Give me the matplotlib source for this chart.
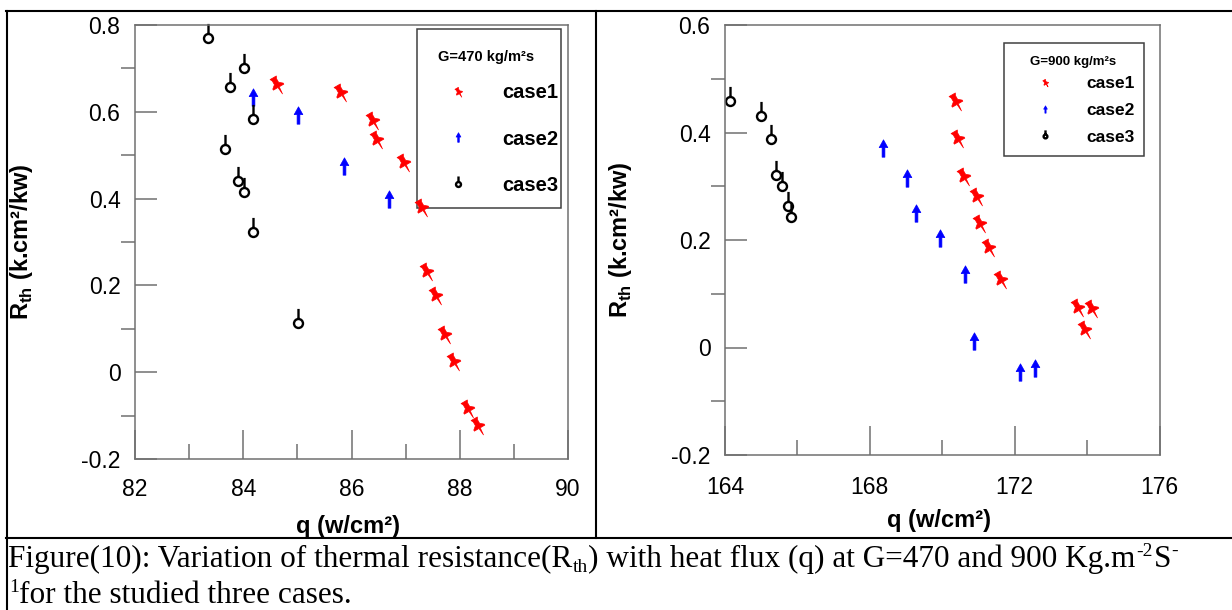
import numpy as np
import matplotlib
matplotlib.use('Agg')
import matplotlib.pyplot as plt
from matplotlib.path import Path
from matplotlib.patches import Rectangle
from matplotlib.lines import Line2D
from matplotlib.ticker import MultipleLocator, FuncFormatter
from matplotlib.font_manager import FontProperties

plt.rcParams['font.family'] = ['Liberation Sans', 'DejaVu Sans']
plt.rcParams['axes.unicode_minus'] = False
plt.rcParams['mathtext.fontset'] = 'custom'
plt.rcParams['mathtext.rm'] = 'Liberation Sans'
plt.rcParams['mathtext.bf'] = 'Liberation Sans:bold'

# ---- data: G = 470 kg/m2s ----
q470_case1 = [84.60, 85.78, 86.37, 86.46, 86.95, 87.29, 87.38, 87.54, 87.71, 87.88, 88.13, 88.31]
r470_case1 = [0.666, 0.649, 0.583, 0.539, 0.487, 0.384, 0.235, 0.180, 0.091, 0.028, -0.081, -0.119]
q470_case2 = [84.18, 85.02, 85.86, 86.70]
r470_case2 = [0.635, 0.593, 0.474, 0.398]
q470_case3 = [83.34, 84.01, 83.76, 84.18, 83.67, 83.91, 84.02, 84.18, 85.02]
r470_case3 = [0.771, 0.702, 0.658, 0.583, 0.514, 0.441, 0.416, 0.322, 0.114]

# ---- data: G = 900 kg/m2s ----
q900_case1 = [170.34, 170.40, 170.57, 170.92, 171.01, 171.25, 171.59, 173.71, 174.12, 173.92]
r900_case1 = [0.460, 0.391, 0.321, 0.284, 0.234, 0.189, 0.129, 0.077, 0.076, 0.036]
q900_case2 = [168.36, 169.02, 169.28, 169.95, 170.62, 170.88, 172.14, 172.57]
r900_case2 = [0.371, 0.315, 0.250, 0.203, 0.137, 0.013, -0.045, -0.039]
q900_case3 = [164.15, 164.99, 165.26, 165.42, 165.58, 165.75, 165.83]
r900_case3 = [0.459, 0.431, 0.387, 0.321, 0.301, 0.264, 0.242]

case_labels = ['case1', 'case2', 'case3']

W, H = 1232, 610
fig = plt.figure(figsize=(W / 100, H / 100), dpi=100)


def fig_box(x0, y0, x1, y1):
    return [x0 / W, 1 - y1 / H, (x1 - x0) / W, (y1 - y0) / H]


def closed(pts):
    pts = np.asarray(pts, float)
    verts = np.vstack([pts, pts[:1]])
    codes = [Path.MOVETO] + [Path.LINETO] * (len(pts) - 1) + [Path.CLOSEPOLY]
    return Path(verts, codes)


# marker shapes: push pin, arrow, ring with stick
pin = np.array([(-0.3, 0.55), (0.3, 0.55), (0.2, 0.35), (0.2, 0.0), (0.5, -0.25), (0.5, -0.35),
                (0.06, -0.35), (0, -1.0), (-0.06, -0.35), (-0.5, -0.35), (-0.5, -0.25),
                (-0.2, 0.0), (-0.2, 0.35)])
th = np.radians(30)
rot = np.array([[np.cos(th), -np.sin(th)], [np.sin(th), np.cos(th)]])
pin_marker = closed(pin @ rot.T)
arrow_marker = closed([(-0.16, -1), (0.16, -1), (0.16, 0.1), (0.5, 0.1), (0, 1),
                       (-0.5, 0.1), (-0.16, 0.1)])
ring_marker = Path.make_compound_path(Path.circle((0, 0), 0.4),
                                      Path([(0, 0.4), (0, 1.3)], [Path.MOVETO, Path.LINETO]))

ax_pix = {}


def frac(ax, px, py):
    x0, y0, x1, y1 = ax_pix[ax]
    return (px - x0) / (x1 - x0), (y1 - py) / (y1 - y0)


def setup(ax, xlim, ylim, xmaj, xmin, xpad):
    ax.set_xlim(*xlim)
    ax.set_ylim(*ylim)
    ax.xaxis.set_major_locator(MultipleLocator(xmaj))
    ax.xaxis.set_minor_locator(MultipleLocator(xmin))
    ax.yaxis.set_major_locator(MultipleLocator(0.2))
    ax.yaxis.set_minor_locator(MultipleLocator(0.1))
    ax.yaxis.set_major_formatter(FuncFormatter(lambda v, p: f'{round(v, 2) + 0:g}'))
    ax.tick_params(axis='x', which='major', direction='in', length=21, width=1.1,
                   color='#707070', labelsize=16.5, pad=xpad)
    ax.tick_params(axis='x', which='minor', direction='in', length=10.5, width=1.1, color='#707070')
    ax.tick_params(axis='y', which='major', direction='in', length=16, width=1.1,
                   color='#707070', labelsize=16.5, pad=10.5)
    ax.tick_params(axis='y', which='minor', direction='out', length=10, width=1.1, color='#707070')
    for s in ax.spines.values():
        s.set_color('#707070')
        s.set_linewidth(1.1)


def draw(ax, q1, r1, q2, r2, q3, r3):
    ax.plot(q1, r1, ls='none', marker=pin_marker, ms=15, mfc='red', mec='red', mew=0.5,
            clip_on=False, label=case_labels[0])
    ax.plot(q2, r2, ls='none', marker=arrow_marker, ms=12.5, mfc='blue', mec='blue', mew=0.5,
            clip_on=False, label=case_labels[1])
    ax.plot(q3, r3, ls='none', marker=ring_marker, ms=21, mfc='none', mec='black', mew=1.7,
            clip_on=False, label=case_labels[2])


def legend(ax, title, title_xy, title_prop, box, lab_prop, hx, cy, tpad, pitch, mscale):
    fs = lab_prop.get_size_in_points() * 100 / 72
    lspace = (pitch - 0.92 * fs) / fs
    fx, fy = frac(ax, hx, cy)
    ax.legend(loc='center left', bbox_to_anchor=(fx, fy), borderaxespad=0, borderpad=0,
              frameon=False, handlelength=1.0, handletextpad=tpad, labelspacing=lspace,
              markerscale=mscale, prop=lab_prop)
    tx, ty = frac(ax, *title_xy)
    ax.text(tx, ty, title, transform=ax.transAxes, ha='center', va='center', fontproperties=title_prop)
    bx0, by1 = frac(ax, box[0], box[1])
    bx1, by0 = frac(ax, box[2], box[3])
    ax.add_patch(Rectangle((bx0, by0), bx1 - bx0, by1 - by0, transform=ax.transAxes,
                           fill=False, ec='#404040', lw=1.1, clip_on=False))


left_lab = FontProperties(family='Liberation Sans', weight='bold', size=14.5)
left_title = FontProperties(family='Liberation Sans', weight='bold', size=10.5)
right_lab = FontProperties(family='Liberation Sans', weight='bold', size=12.5)
right_title = FontProperties(family='Liberation Sans', weight='bold', size=9.5)

# left panel
ax1 = fig.add_axes(fig_box(135, 25, 568, 459))
ax_pix[ax1] = (135, 25, 568, 459)
setup(ax1, (82, 90), (-0.2, 0.8), 2, 1, 13.5)
draw(ax1, q470_case1, r470_case1, q470_case2, r470_case2, q470_case3, r470_case3)
legend(ax1, 'G=470 kg/m²s', (486, 57), left_title, (417, 29, 561, 208),
       left_lab, 448, 139, 1.7, 46, 0.55)

# right panel
ax2 = fig.add_axes(fig_box(725, 25, 1159.5, 455))
ax_pix[ax2] = (725, 25, 1159.5, 455)
setup(ax2, (164, 176), (-0.2, 0.6), 4, 2, 15)
draw(ax2, q900_case1, r900_case1, q900_case2, r900_case2, q900_case3, r900_case3)
legend(ax2, 'G=900 kg/m²s', (1073, 62), right_title, (1004, 42.7, 1144, 156),
       right_lab, 1036, 110.5, 1.9, 27.5, 0.42)

ylab = r'R$_{\mathbf{th}}$ (k.cm²/kw)'
xlab = 'q (w/cm²)'
for ax, ylx, xlp in [(ax1, 22, (348, 526)), (ax2, 620, (939, 521))]:
    ax.set_ylabel(ylab, fontsize=17, fontweight='bold', va='center')
    ax.yaxis.set_label_coords(frac(ax, ylx, 0)[0], 0.5)
    ax.set_xlabel(xlab, fontsize=17, fontweight='bold', va='center')
    ax.xaxis.set_label_coords(*frac(ax, *xlp))

# table-like frame lines around the panels
frame_lines = [((6, 10.7), (1232, 10.7)), ((6.7, 10.7), (6.7, 610)),
               ((596, 10.7), (596, 537.7)), ((6, 537.7), (1232, 537.7))]
for (x0, y0), (x1, y1) in frame_lines:
    fig.add_artist(Line2D([x0 / W, x1 / W], [1 - y0 / H, 1 - y1 / H], transform=fig.transFigure,
                          color='black', lw=1.5))

# caption, written piece by piece so sub/superscripts use plain hyphens
renderer = fig.canvas.get_renderer()
cap_size = 22.5
small = 14


def chain(x, y, pieces):
    for txt, size, dy in pieces:
        t = fig.text(x / W, 1 - (y + dy) / H, txt, family='Liberation Serif', fontsize=size,
                     va='baseline', ha='left')
        x = t.get_window_extent(renderer=renderer).x1 + 0.5


chain(8, 567, [('Figure(10): Variation of thermal resistance(R', cap_size, 0),
               ('th', small, 5),
               (') with heat flux (q) at G=470 and 900 Kg.m', cap_size, 0),
               ('-2', small, -11),
               ('S', cap_size, 0),
               ('-', small, -11)])
chain(9, 603, [('1', small, -11), ('for the studied three cases.', cap_size, 0)])

fig.savefig('out.png', dpi=100)
